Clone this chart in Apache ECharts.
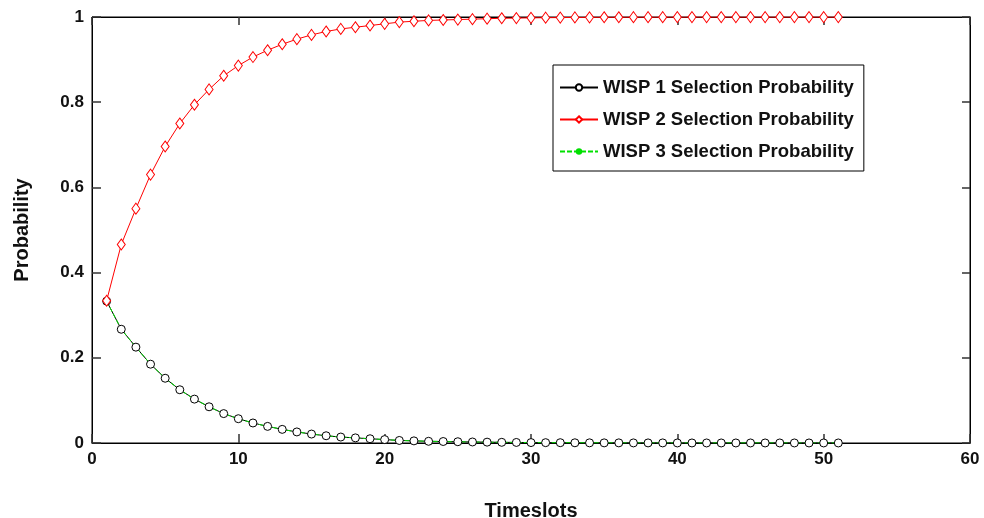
<!DOCTYPE html>
<html>
<head>
<meta charset="utf-8">
<script src="https://cdn.jsdelivr.net/npm/echarts@6/dist/echarts.min.js"></script>
<style>
  html, body { margin: 0; padding: 0; background: #fff; }
  #chart { width: 984px; height: 518px; }
</style>
</head>
<body>
<div id="chart"></div>
<script>
// 时隙 1..51
var timeslots = [];
for (var t = 1; t <= 51; t++) timeslots.push(t);

var wisp1 = [0.333, 0.267, 0.225, 0.185, 0.152, 0.125, 0.103, 0.085, 0.069, 0.057,
  0.047, 0.039, 0.032, 0.026, 0.021, 0.017, 0.014, 0.012, 0.010, 0.008,
  0.006, 0.005, 0.004, 0.0035, 0.003, 0.0024, 0.002, 0.0016, 0.0013, 0.001,
  0.0008, 0.0007, 0.0005, 0.0004, 0.0003, 0.0003, 0.0002, 0.0002, 0.0002, 0.0001,
  0.0001, 0.0001, 0.0001, 0.0001, 0.0001, 0.0001, 0.0001, 0.0001, 0.0001, 0.0001, 0.0001];

var wisp2 = [0.334, 0.466, 0.550, 0.630, 0.696, 0.750, 0.794, 0.830, 0.862, 0.886,
  0.906, 0.922, 0.936, 0.948, 0.958, 0.966, 0.972, 0.976, 0.980, 0.984,
  0.988, 0.990, 0.992, 0.993, 0.994, 0.995, 0.996, 0.997, 0.9974, 0.998,
  0.9984, 0.9986, 0.999, 0.9992, 0.9994, 0.9994, 0.9996, 0.9996, 0.9996, 0.9998,
  0.9998, 0.9998, 0.9998, 0.9998, 0.9998, 0.9998, 0.9998, 0.9998, 0.9998, 0.9998, 0.9998];

var wisp3 = [0.333, 0.267, 0.225, 0.185, 0.152, 0.125, 0.103, 0.085, 0.069, 0.057,
  0.047, 0.039, 0.032, 0.026, 0.021, 0.017, 0.014, 0.012, 0.010, 0.008,
  0.006, 0.005, 0.004, 0.0035, 0.003, 0.0024, 0.002, 0.0016, 0.0013, 0.001,
  0.0008, 0.0007, 0.0005, 0.0004, 0.0003, 0.0003, 0.0002, 0.0002, 0.0002, 0.0001,
  0.0001, 0.0001, 0.0001, 0.0001, 0.0001, 0.0001, 0.0001, 0.0001, 0.0001, 0.0001, 0.0001];

var seriesNames = ['WISP 1 Selection Probability', 'WISP 2 Selection Probability', 'WISP 3 Selection Probability'];

function pairs(ys) {
  var out = [];
  for (var i = 0; i < ys.length; i++) out.push([timeslots[i], ys[i]]);
  return out;
}

var font = 'Liberation Sans, Arial, sans-serif';
var chart = echarts.init(document.getElementById('chart'));

var xr = { min: 0, max: 60, interval: 10 };
var yr = { min: 0, max: 1, interval: 0.2 };

function frameAxis(base, extra) {
  // 框线 + 朝内刻度
  var a = {
    type: 'value',
    axisLine: { show: true, onZero: false, lineStyle: { color: '#000', width: 1 } },
    axisTick: { show: true, inside: true, length: 8, lineStyle: { color: '#333', width: 1.5 } },
    axisLabel: { show: false },
    splitLine: { show: false }
  };
  for (var k in base) a[k] = base[k];
  for (var k2 in extra) a[k2] = extra[k2];
  return a;
}

var option = {
  animation: false,
  backgroundColor: '#fff',
  grid: {
    left: 92, right: 14, top: 17, bottom: 75,
    outerBoundsMode: 'none', containLabel: false,
    show: true, borderColor: '#000', borderWidth: 1
  },
  legend: {
    orient: 'vertical',
    left: 553, top: 65,
    backgroundColor: '#fff',
    borderColor: '#000',
    borderWidth: 1,
    padding: [13, 10, 10, 6],
    itemGap: 13,
    itemWidth: 38,
    itemHeight: 8,
    textStyle: { fontFamily: font, fontWeight: 'bold', fontSize: 18.5, color: '#111' },
    data: seriesNames
  },
  xAxis: [
    frameAxis(xr, {
      position: 'bottom',
      name: 'Timeslots', nameLocation: 'middle', nameGap: 58,
      nameTextStyle: { fontFamily: font, fontWeight: 'bold', fontSize: 20, color: '#111' },
      axisTick: { show: true, inside: true, length: 9, lineStyle: { color: '#333', width: 1.5 } },
      axisLabel: { show: true, fontFamily: font, fontWeight: 'bold', fontSize: 17, color: '#111', margin: 8 }
    }),
    frameAxis(xr, { position: 'top' })
  ],
  yAxis: [
    frameAxis(yr, {
      position: 'left',
      name: 'Probability', nameLocation: 'middle', nameGap: 60,
      nameTextStyle: { fontFamily: font, fontWeight: 'bold', fontSize: 20, color: '#111' },
      axisTick: { show: true, inside: true, length: 9, lineStyle: { color: '#333', width: 1.5 } },
      axisLabel: { show: true, fontFamily: font, fontWeight: 'bold', fontSize: 17, color: '#111', margin: 8 }
    }),
    frameAxis(yr, { position: 'right' })
  ],
  series: [{
    name: seriesNames[0], type: 'line', data: pairs(wisp1),
    symbol: 'circle', symbolSize: 8, showAllSymbol: true,
    itemStyle: { color: '#fff', borderColor: '#000', borderWidth: 1 },
    lineStyle: { color: '#000', width: 1 }
  }, {
    name: seriesNames[1], type: 'line', data: pairs(wisp2),
    symbol: 'diamond', symbolSize: [8, 11], showAllSymbol: true,
    itemStyle: { color: '#fff', borderColor: '#f00', borderWidth: 1 },
    lineStyle: { color: '#f00', width: 1 }
  }, {
    name: seriesNames[2], type: 'line', data: pairs(wisp3),
    symbol: 'none',
    itemStyle: { color: '#00e000' },
    lineStyle: { color: '#00e000', width: 1, type: [5, 2] }
  }, {
    type: 'line', data: [], xAxisIndex: 1, yAxisIndex: 1, silent: true
  }]
};
chart.setOption(option);
</script>
</body>
</html>
